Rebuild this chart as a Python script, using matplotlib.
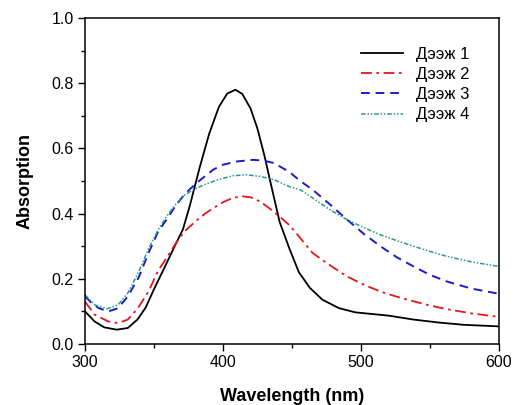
"""
Шингээлтийн спектр: Дээж 1-4.
"""
import matplotlib
matplotlib.use('Agg')
import matplotlib.pyplot as plt
from matplotlib.ticker import MultipleLocator

plt.rcParams['font.family'] = ['Liberation Sans', 'DejaVu Sans']

# sample 1 (black, solid)
wl_1 = [300, 307, 314, 323, 331, 338, 344, 350, 358, 365, 371, 376, 383, 390, 397,
        403, 409, 414, 420, 425, 430, 435, 441, 448, 455, 463, 472, 484, 496, 520,
        538, 556, 574, 600]
abs_1 = [0.100, 0.069, 0.051, 0.044, 0.049, 0.075, 0.112, 0.168, 0.238, 0.300, 0.352,
         0.425, 0.540, 0.645, 0.727, 0.768, 0.780, 0.767, 0.722, 0.660, 0.578, 0.485,
         0.375, 0.294, 0.220, 0.172, 0.136, 0.110, 0.097, 0.087, 0.075, 0.066, 0.059,
         0.054]

# sample 2 (red, dash-dot)
wl_2 = [300, 307, 317, 324, 331, 338, 346, 353, 360, 366, 372, 380, 387, 393, 400,
        407, 414, 420, 427, 434, 441, 448, 456, 465, 478, 490, 502, 514, 526, 538,
        550, 562, 580, 600]
abs_2 = [0.130, 0.090, 0.069, 0.064, 0.075, 0.108, 0.161, 0.225, 0.270, 0.310, 0.345,
         0.376, 0.400, 0.417, 0.435, 0.448, 0.453, 0.450, 0.437, 0.415, 0.391, 0.365,
         0.325, 0.279, 0.240, 0.207, 0.182, 0.161, 0.145, 0.131, 0.118, 0.107, 0.094,
         0.083]

# sample 3 (blue, dashed)
wl_3 = [300, 305, 310, 317, 324, 331, 339, 346, 353, 359, 365, 371, 376, 381, 387,
        393, 400, 410, 422, 430, 437, 448, 456, 465, 477, 490, 502, 514, 526, 538,
        550, 562, 580, 600]
abs_3 = [0.146, 0.125, 0.110, 0.100, 0.110, 0.146, 0.205, 0.279, 0.345, 0.381, 0.420,
         0.453, 0.475, 0.494, 0.515, 0.535, 0.550, 0.560, 0.565, 0.562, 0.555, 0.528,
         0.500, 0.473, 0.430, 0.381, 0.338, 0.300, 0.266, 0.238, 0.212, 0.192, 0.170,
         0.154]

# sample 4 (teal, dash-dot-dot)
wl_4 = [300, 307, 316, 324, 331, 339, 346, 353, 359, 365, 371, 376, 381, 387, 393,
        400, 407, 417, 427, 437, 448, 456, 465, 477, 490, 502, 514, 526, 538, 550,
        562, 580, 600]
abs_4 = [0.151, 0.120, 0.108, 0.120, 0.156, 0.222, 0.292, 0.350, 0.391, 0.425, 0.453,
         0.467, 0.478, 0.490, 0.499, 0.508, 0.516, 0.519, 0.514, 0.504, 0.483, 0.473,
         0.448, 0.413, 0.381, 0.357, 0.335, 0.317, 0.300, 0.284, 0.269, 0.252, 0.238]

labels = ['Дээж 1', 'Дээж 2', 'Дээж 3', 'Дээж 4']

fig = plt.figure(figsize=(5.14, 4.05), dpi=100)
ax = fig.add_axes([85 / 514, 1 - 344 / 405, 414 / 514, 326 / 405])

ax.plot(wl_1, abs_1, color='black', linewidth=1.3, solid_joinstyle='round',
        label=labels[0])
ax.plot(wl_2, abs_2, color='#e3171c', linewidth=1.3,
        dashes=(6, 2.5, 1.5, 2.5), label=labels[1])
ax.plot(wl_3, abs_3, color='#1c1cc4', linewidth=1.4,
        dashes=(4.5, 3), label=labels[2])
ax.plot(wl_4, abs_4, color='#2a9a8c', linewidth=1.1,
        dashes=(3, 1.2, 1, 1.2, 1, 1.2), label=labels[3])

ax.set_xlim(300, 600)
ax.set_ylim(0, 1.0)
ax.xaxis.set_major_locator(MultipleLocator(100))
ax.xaxis.set_minor_locator(MultipleLocator(50))
ax.yaxis.set_major_locator(MultipleLocator(0.2))
ax.yaxis.set_minor_locator(MultipleLocator(0.1))
ax.yaxis.set_major_formatter(plt.FuncFormatter(lambda v, p: f'{v:.1f}'))
ax.tick_params(which='both', direction='out', top=False, right=False,
               labelsize=11.5, width=1.0, pad=3)
ax.tick_params(which='major', length=5)
ax.tick_params(which='minor', length=3)
for sp in ax.spines.values():
    sp.set_linewidth(1.1)

ax.set_xlabel('Wavelength (nm)', fontsize=13, fontweight='bold', labelpad=13)
ax.set_ylabel('Absorption', fontsize=13, fontweight='bold', labelpad=13)

ax.legend(loc='upper left', bbox_to_anchor=(361 / 514, 1 - 46.5 / 405),
          bbox_transform=fig.transFigure, frameon=False, fontsize=12,
          handlelength=2.5, handletextpad=0.8, labelspacing=0.32,
          borderpad=0, borderaxespad=0)

fig.savefig('out.png', dpi=100, facecolor='white')
